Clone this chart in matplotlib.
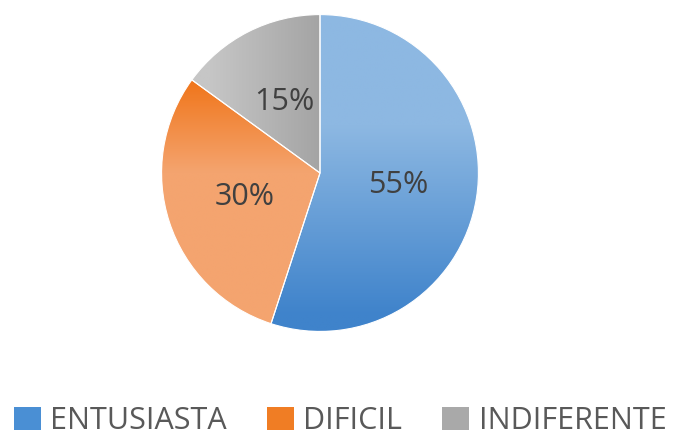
import numpy as np
import matplotlib
matplotlib.use("Agg")
import matplotlib.pyplot as plt
from matplotlib.colors import LinearSegmentedColormap
from matplotlib.patches import Patch

categorias = ["ENTUSIASTA", "DIFICIL", "INDIFERENTE"]
porcentajes = [55, 30, 15]
# colores: (claro, oscuro) para el degradado de cada porcion
colores = [("#8db8e2", "#3f83cb"), ("#f4a46f", "#f07418"), ("#c6c6c6", "#a4a4a4")]
color_leyenda = ["#4a8fd4", "#f07d24", "#a9a9a9"]

plt.rcParams['font.family'] = ['Open Sans', 'DejaVu Sans']

fig = plt.figure(figsize=(6.77, 4.36), dpi=100)
ax = fig.add_axes([160 / 677, (436 - 333) / 436, 320 / 677, 320 / 436])

wedges, textos, pcts = ax.pie(porcentajes, startangle=90, counterclock=False,
                              autopct="%1.0f%%", pctdistance=0.5,
                              colors=[c[0] for c in colores],
                              wedgeprops=dict(linewidth=0.8, edgecolor="white"),
                              textprops=dict(color="#404040", fontsize=22))

yy, xx = np.mgrid[1:-1:300j, -1:1:300j]
grads = [
    np.clip((0.3 - yy) / 1.2, 0, 1),           # azul: claro arriba, oscuro abajo
    np.clip((yy - 0.0) / 0.6, 0, 1),            # naranja: oscuro arriba
    np.clip((xx + 0.7) / 0.7, 0, 1),             # gris: oscuro a la derecha
]
for w, (claro, oscuro), g in zip(wedges, colores, grads):
    cmap = LinearSegmentedColormap.from_list("g", [claro, oscuro])
    im = ax.imshow(g, cmap=cmap, extent=[-1, 1, -1, 1], vmin=0, vmax=1,
                   zorder=w.get_zorder(), interpolation="bilinear")
    im.set_clip_path(w)
    w.set_facecolor("none")
    w.set_zorder(w.get_zorder() + 0.5)
for t in pcts:
    t.set_zorder(5)

ax.set_xlim(-1.01, 1.01)
ax.set_ylim(-1.01, 1.01)
ax.set_aspect("equal")
ax.axis("off")

handles = [Patch(facecolor=c, edgecolor="none") for c in color_leyenda]
fig.legend(handles, categorias, loc="center", bbox_to_anchor=(340 / 677, 1 - 421 / 436),
           ncol=3, frameon=False, fontsize=22, borderpad=0, borderaxespad=0,
           handlelength=0.88, handleheight=0.8, handletextpad=0.32,
           columnspacing=1.3, labelcolor="#595959")

fig.savefig("out.png", dpi=100)
